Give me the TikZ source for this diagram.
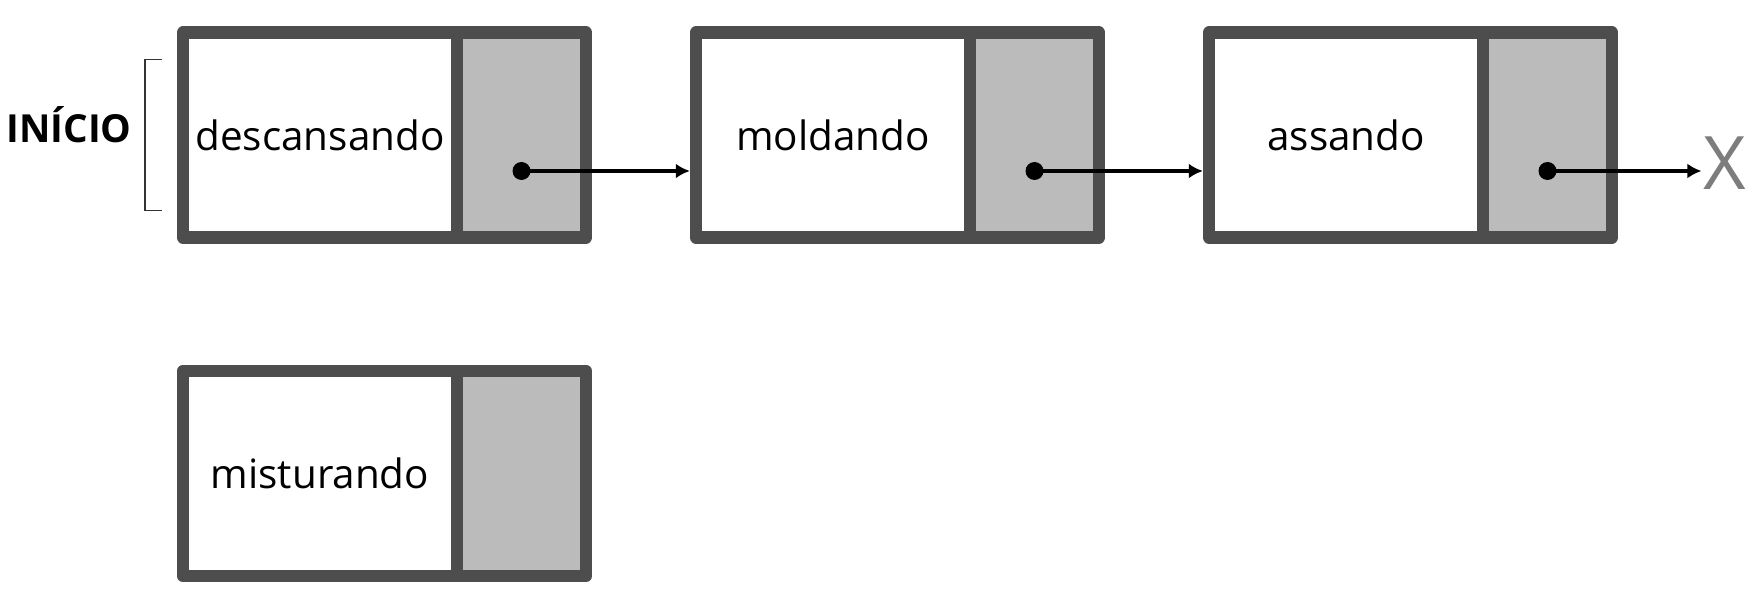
\documentclass[tikz,border=0pt]{standalone}
\usepackage{fontspec}
\setmainfont{Open Sans}
\usetikzlibrary{positioning, arrows.meta}

\begin{document}
\begin{tikzpicture}[>={Latex[length=8pt,width=8.5pt]}]
    % 1. Cores e estilos
    \definecolor{borda}{RGB}{77,77,77}
    \definecolor{cinza}{RGB}{187,187,187}
    \definecolor{cinzaX}{RGB}{125,125,125}
    \tikzset{
        dado/.style={draw=borda, line width=7pt, line join=round, fill=white,
            minimum width=5.48cm, minimum height=4.1cm, outer sep=0pt,
            inner sep=0pt, font=\fontsize{23}{27}\selectfont},
        ponteiro/.style={draw=borda, line width=7pt, line join=round, fill=cinza,
            minimum width=2.58cm, minimum height=4.1cm, outer sep=0pt},
        ponto/.style={circle, fill=black, inner sep=0pt, minimum size=0.36cm},
        seta/.style={->, line width=2.4pt, shorten >=3.5pt}
    }
    \useasboundingbox (0,0) rectangle (35.04,-11.84);

    % 2. Os nós da lista
    \node[dado] (d1) at (6.4,-2.7) {descansando};
    \node[ponteiro, right=0pt of d1] (p1) {};
    \node[dado, right=2.2cm of p1] (d2) {moldando};
    \node[ponteiro, right=0pt of d2] (p2) {};
    \node[dado, right=2.2cm of p2] (d3) {assando};
    \node[ponteiro, right=0pt of d3] (p3) {};

    % 3. Nó solto
    \node[dado, below=2.67cm of d1] (d4) {misturando};
    \node[ponteiro, right=0pt of d4] (p4) {};

    % 4. Ponteiros e setas
    \node[ponto] (q1) at ([yshift=-0.72cm]p1.center) {};
    \node[ponto] (q2) at ([yshift=-0.72cm]p2.center) {};
    \node[ponto] (q3) at ([yshift=-0.72cm]p3.center) {};
    \draw[seta] (q1.center) -- (q1 -| d2.west);
    \draw[seta] (q2.center) -- (q2 -| d3.west);
    \coordinate (fim) at ([xshift=3.08cm]q3.center);
    \draw[seta, shorten >=0pt] (q3.center) -- (fim);
    \node[anchor=west, inner sep=0pt, text=cinzaX,
        font=\fontsize{42}{46}\selectfont] (nulo) at ([xshift=1pt, yshift=0.16cm]fim) {X};

    % 5. Rótulo INÍCIO e colchete
    \node[font=\bfseries\fontsize{22}{26}\selectfont] (inicio) at (1.38,-2.5) {INÍCIO};
    \draw[line width=0.9pt, black!80]
        ([xshift=-0.42cm, yshift=1.51cm]d1.west) -| ([xshift=-0.76cm]d1.west)
        |- ([xshift=-0.42cm, yshift=-1.51cm]d1.west);
\end{tikzpicture}
\end{document}
